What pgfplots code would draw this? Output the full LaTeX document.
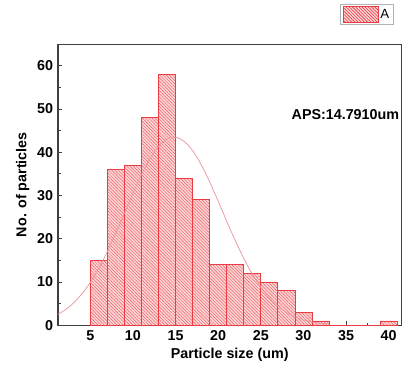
\documentclass[border=0pt]{standalone}
\usepackage{fontspec}
\setmainfont{Liberation Sans}
\usepackage{pgfplots}
\pgfplotsset{compat=1.18}
\usetikzlibrary{patterns.meta}
\definecolor{barred}{RGB}{235,60,70}
\definecolor{barfill}{RGB}{253,215,215}
\definecolor{curvec}{RGB}{230,150,155}
\begin{document}
\fontsize{14}{16}\selectfont\bfseries
\begin{tikzpicture}
\begin{axis}[
  scale only axis,
  width=336pt, height=275pt,
  xmin=1.2, xmax=41.5, ymin=0, ymax=65,
  xtick={5,10,...,40}, ytick={0,10,...,60},
  minor x tick num=1, minor y tick num=1,
  xtick pos=left, ytick pos=left,
  tick align=inside,
  major tick length=4pt, minor tick length=2.5pt,
  axis line style={black!75, line width=1.1pt},
  every tick/.style={black!75, line width=0.8pt},
  tick label style={font=\fontsize{14}{16}\selectfont\bfseries},
  /pgf/number format/assume math mode=true,
  xlabel={Particle size (um)}, ylabel={No. of particles},
  label style={font=\fontsize{14}{16}\selectfont\bfseries},
  xlabel style={yshift=2pt},
  ylabel style={yshift=-2pt},
  legend style={at={(0.977,1.068)}, anchor=south east, draw=black!30, line width=0.6pt, font=\fontsize{13}{15}\selectfont\mdseries, inner sep=2pt},
  legend image code/.code={\draw[barred, fill=barfill, line width=0.5pt, postaction={pattern={Lines[angle=-45,distance=2.2pt,line width=0.4pt]}, pattern color=barred}] (0cm,-0.27cm) rectangle (1.2cm,0.27cm);},
]
\addplot[ybar interval, draw=barred, line width=0.7pt, fill=barfill,
  postaction={pattern={Lines[angle=-45,distance=2.2pt,line width=0.45pt]}, pattern color=barred!85}]
coordinates {(5,15) (7,36) (9,37) (11,48) (13,58) (15,34) (17,29) (19,14) (21,14) (23,12) (25,10) (27,8) (29,3) (31,1) (33,0) (35,0) (37,0) (39,1) (41,1)};
\addlegendentry{A}
\addplot[curvec, line width=0.7pt, smooth, forget plot] coordinates {
(1.2,2.53) (2,3.50) (3,5.10) (4,7.22) (5,9.92) (6,13.21) (7,17.05) (8,21.35) (9,25.92) (10,30.51) (11,34.83) (12,38.55) (13,41.39) (14,43.07) (14.8,43.5) (15.5,43.17) (16.5,41.61) (17.5,38.88) (18.5,35.24) (19.5,30.96) (20.5,26.38) (21.5,21.80) (22.5,17.47) (23.5,13.57) (24.5,10.22) (25.5,7.47) (26.5,5.29) (27.5,3.64) (28.5,2.42) (29.5,1.56) (30.5,0.98) (31.5,0.60) (33,0.27)};
\node[anchor=west, inner sep=0pt, font=\fontsize{14}{16}\selectfont\bfseries] at (axis cs:28.6,48.8) {APS:14.7910um};
\end{axis}
\path ([xshift=-11pt,yshift=4pt]current bounding box.north west) ([yshift=-7pt]current bounding box.south east);
\end{tikzpicture}
\end{document}
